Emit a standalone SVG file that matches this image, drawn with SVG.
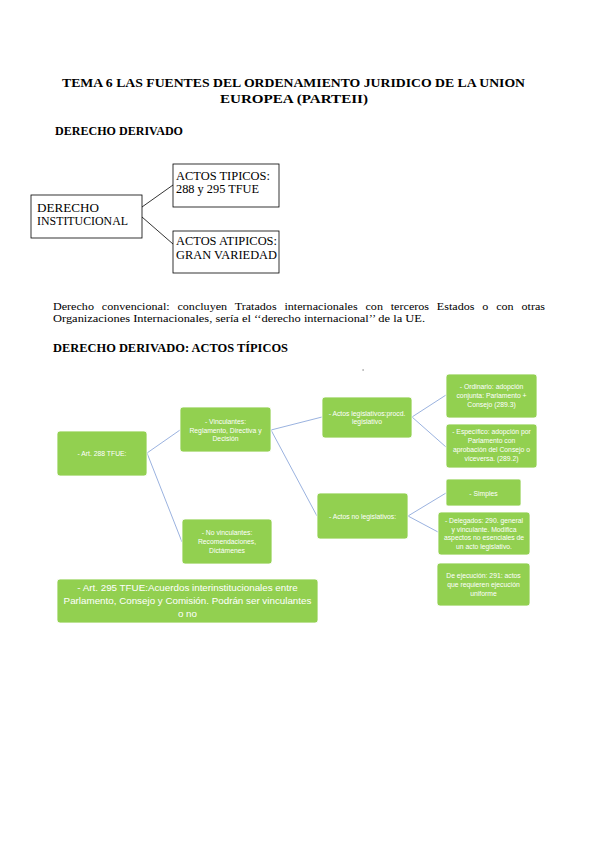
<svg xmlns="http://www.w3.org/2000/svg" width="599" height="848" viewBox="0 0 599 848">
<style>
.serif{font-family:"Liberation Serif","Times New Roman",serif;fill:#000}
.b{font-weight:bold}
.box{fill:#fff;stroke:#000;stroke-width:0.8}
.g{fill:#92D050;stroke:#fff;stroke-width:0.8}
.gt{font-family:"Liberation Sans",Arial,sans-serif;font-size:6.8px;fill:#fff;text-anchor:middle}
.gt2{font-family:"Liberation Sans",Arial,sans-serif;font-size:9.8px;fill:#fff;text-anchor:middle}
.c1{stroke:#000;stroke-width:0.8;fill:none}
.c2{stroke:#8EA9DB;stroke-width:0.9;fill:none}
</style>
<rect width="599" height="848" fill="#fff"/>
<g id="texts">
<text class="serif b" x="62" y="87" font-size="13" textLength="463" lengthAdjust="spacingAndGlyphs">TEMA 6 LAS FUENTES DEL ORDENAMIENTO JURIDICO DE LA UNION</text>
<text class="serif b" x="220" y="103" font-size="13" textLength="148" lengthAdjust="spacingAndGlyphs">EUROPEA (PARTEII)</text>
<text class="serif b" x="55" y="135" font-size="12" textLength="128" lengthAdjust="spacingAndGlyphs">DERECHO DERIVADO</text>
<text class="serif" x="53" y="310" font-size="11.3" word-spacing="4.5" textLength="492" lengthAdjust="spacingAndGlyphs">Derecho convencional: concluyen Tratados internacionales con terceros Estados o con otras</text>
<text class="serif" x="53" y="322" font-size="11.3" textLength="372" lengthAdjust="spacingAndGlyphs">Organizaciones Internacionales, sería el ‘‘derecho internacional’’ de la UE.</text>
<text class="serif b" x="53" y="352" font-size="12" textLength="235" lengthAdjust="spacingAndGlyphs">DERECHO DERIVADO: ACTOS TÍPICOS</text>
</g>
<g id="connectors">
<line class="c1" x1="142" y1="207" x2="173" y2="185"/>
<line class="c1" x1="142" y1="217" x2="173" y2="244"/>
<line class="c2" x1="147" y1="453" x2="180" y2="430"/>
<line class="c2" x1="147" y1="453" x2="182" y2="542"/>
<line class="c2" x1="271" y1="430" x2="322" y2="417"/>
<line class="c2" x1="271" y1="430" x2="317" y2="516"/>
<line class="c2" x1="412" y1="417" x2="446" y2="395"/>
<line class="c2" x1="412" y1="417" x2="446" y2="447"/>
<line class="c2" x1="408" y1="516" x2="446" y2="493"/>
<line class="c2" x1="408" y1="516" x2="438" y2="532"/>
</g>
<g id="derecho-institucional">
<rect class="box" x="31" y="195" width="111" height="43"/>
<text class="serif" x="37" y="212" font-size="12.5" textLength="62" lengthAdjust="spacingAndGlyphs">DERECHO</text>
<text class="serif" x="37" y="225" font-size="12.5" textLength="91" lengthAdjust="spacingAndGlyphs">INSTITUCIONAL</text>
</g>
<g id="actos-tipicos">
<rect class="box" x="173" y="164" width="106" height="43"/>
<text class="serif" x="176" y="180" font-size="12.5" textLength="94" lengthAdjust="spacingAndGlyphs">ACTOS TIPICOS:</text>
<text class="serif" x="176" y="193" font-size="12.5" textLength="83" lengthAdjust="spacingAndGlyphs">288 y 295 TFUE</text>
</g>
<g id="actos-atipicos">
<rect class="box" x="173" y="231" width="106" height="42"/>
<text class="serif" x="176" y="245" font-size="12.5" textLength="101" lengthAdjust="spacingAndGlyphs">ACTOS ATIPICOS:</text>
<text class="serif" x="176" y="259" font-size="12.5" textLength="101" lengthAdjust="spacingAndGlyphs">GRAN VARIEDAD</text>
</g>
<rect x="362.5" y="369.5" width="1.2" height="1" fill="#555"/>
<g id="art288">
<rect class="g" x="57" y="431" width="90" height="45" rx="3"/>
<text class="gt" x="102" y="455.5">- Art. 288 TFUE:</text>
</g>
<g id="vinculantes">
<rect class="g" x="180" y="407" width="91" height="45" rx="3"/>
<text class="gt" x="225.5" y="424">- Vinculantes:</text>
<text class="gt" x="225.5" y="432.5">Reglamento, Directiva y</text>
<text class="gt" x="225.5" y="441">Decisión</text>
</g>
<g id="actos-legislativos">
<rect class="g" x="322" y="397" width="90" height="41" rx="3"/>
<text class="gt" x="367" y="415.5">- Actos legislativos:procd.</text>
<text class="gt" x="367" y="424">legislativo</text>
</g>
<g id="ordinario">
<rect class="g" x="446" y="374" width="91" height="44" rx="3"/>
<text class="gt" x="491.5" y="389">- Ordinario: adopción</text>
<text class="gt" x="491.5" y="398">conjunta: Parlamento +</text>
<text class="gt" x="491.5" y="406.5">Consejo (289.3)</text>
</g>
<g id="especifico">
<rect class="g" x="446" y="424" width="91" height="44" rx="3"/>
<text class="gt" x="491.5" y="434">- Específico: adopción por</text>
<text class="gt" x="491.5" y="443">Parlamento con</text>
<text class="gt" x="491.5" y="451.5">aprobación del Consejo o</text>
<text class="gt" x="491.5" y="460.5">viceversa. (289.2)</text>
</g>
<g id="no-vinculantes">
<rect class="g" x="182" y="519" width="90" height="45" rx="3"/>
<text class="gt" x="227" y="535">- No vinculantes:</text>
<text class="gt" x="227" y="544">Recomendaciones,</text>
<text class="gt" x="227" y="553">Dictámenes</text>
</g>
<g id="actos-no-legislativos">
<rect class="g" x="317" y="493" width="91" height="46" rx="3"/>
<text class="gt" x="362.5" y="519">- Actos no legislativos:</text>
</g>
<g id="simples">
<rect class="g" x="446" y="479" width="75" height="27" rx="2"/>
<text class="gt" x="483.5" y="495.5">- Simples</text>
</g>
<g id="delegados">
<rect class="g" x="438" y="512" width="92" height="43" rx="3"/>
<text class="gt" x="484" y="523">- Delegados: 290. general</text>
<text class="gt" x="484" y="531.5">y vinculante. Modifica</text>
<text class="gt" x="484" y="540">aspectos no esenciales de</text>
<text class="gt" x="484" y="549">un acto legislativo.</text>
</g>
<g id="ejecucion">
<rect class="g" x="437" y="563" width="93" height="43" rx="3"/>
<text class="gt" x="483.5" y="578">De ejecución: 291: actos</text>
<text class="gt" x="483.5" y="586.5">que requieren ejecución</text>
<text class="gt" x="483.5" y="595.5">uniforme</text>
</g>
<g id="art295">
<rect class="g" x="57" y="579" width="261" height="44" rx="3"/>
<text class="gt2" x="187.5" y="591">- Art. 295 TFUE:Acuerdos interinstitucionales entre</text>
<text class="gt2" x="187.5" y="604">Parlamento, Consejo y Comisión. Podrán ser vinculantes</text>
<text class="gt2" x="187.5" y="617">o no</text>
</g>
</svg>
